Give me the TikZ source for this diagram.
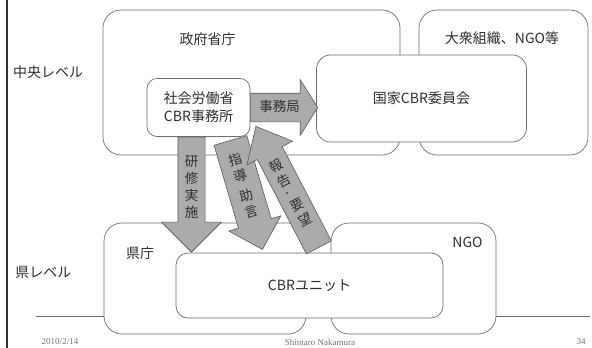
\documentclass[tikz,border=0pt]{standalone}
\usepackage{fontspec}
\usepackage{graphicx}
\setmainfont{Liberation Serif}
\newfontfamily\jp{Noto Sans CJK JP}
\usetikzlibrary{shapes.arrows,positioning}

\definecolor{linegray}{HTML}{6E6E6E}
\definecolor{textgray}{HTML}{2E2E2E}
\definecolor{arrowfill}{HTML}{ABABAB}

% one upright character of a column of vertical text
\newcommand{\tate}[1]{\rotatebox{90}{\raisebox{0pt}[12.5pt][4.5pt]{#1}}}

\tikzset{
	box/.style={draw=linegray, line width=0.7pt, fill=white, rounded corners=#1},
	box/.default=18pt,
	lbl/.style={text=textgray, font=\jp\fontsize{14}{18}\selectfont},
	bigarrow/.style={single arrow, draw=black!65, fill=arrowfill, line width=0.6pt,
		text=textgray, font=\jp\fontsize{13.5}{16}\selectfont, inner xsep=1pt},
	foot/.style={text=black!55, font=\fontsize{9}{10}\selectfont}
}

\begin{document}
\begin{tikzpicture}[x=1pt, y=-1pt]
	\useasboundingbox (0,0) rectangle (592,348);
	
	% slide frame
	\draw[black!80, line width=2pt] (7,0) -- (7,348);
	\draw[linegray, line width=0.8pt] (36,316) -- (590,316);
	
	% central level
	\node[box, minimum width=297pt, minimum height=145pt] (seifu) at (251.5,82.5) {};
	\node[box, minimum width=169pt, minimum height=145pt] (taishu) at (503.5,82.5) {};
	\node[box=14pt, lbl, minimum width=210pt, minimum height=87pt] (kokka) at (421.5,98.5) {国家CBR委員会};
	\node[box=10pt, lbl, align=center, minimum width=103pt, minimum height=58pt] (shakai) at (198.5,107.5) {社会労働省\\CBR事務所};
	
	\node[lbl] (seifu-t) at (207.5,39) {政府省庁};
	\node[lbl] (taishu-t) at (502,38) {大衆組織、NGO等};
	\node[lbl] (chuo) at (48,72) {中央レベル};
	
	% prefecture level
	\node[box, minimum width=202pt, minimum height=111pt] (kencho) at (205,278.5) {};
	\node[box, minimum width=165pt, minimum height=111pt] (ngo) at (413.5,278.5) {};
	\node[box=12pt, lbl, minimum width=267pt, minimum height=65pt] (unit) at (309.5,285.5) {CBRユニット};
	
	\node[lbl] (kencho-t) at (140,253) {県庁};
	\node[lbl] (ngo-t) at (467.5,242) {NGO};
	\node[lbl] (ken) at (43.5,272) {県レベル};
	
	% arrows
	\node[bigarrow, minimum height=67pt, inner ysep=7pt, text height=10.5pt, text depth=3.5pt,
		single arrow head extend=13.5pt, single arrow tip angle=116, anchor=tail]
		(jimu) at (shakai.east) {事務局};
	\node[bigarrow, rotate=-90, minimum height=115pt, inner ysep=6.5pt,
		single arrow head extend=16.5pt, anchor=tail]
		(kenshu) at ([xshift=-7pt]shakai.south) {\tate{研}\tate{修}\tate{実}\tate{施}};
	\node[bigarrow, rotate=-73.6, minimum height=113.6pt, inner ysep=10pt,
		single arrow head extend=10pt, anchor=tail]
		(shido) at ([xshift=-20pt,yshift=-3.3pt]shakai.south east) {\tate{指}\tate{導}\hspace{4pt}\tate{助}\tate{言}};
	\node[bigarrow, rotate=-62.5, shape border rotate=180, minimum height=136.4pt, inner ysep=7pt,
		single arrow head extend=11.6pt, single arrow tip angle=81, anchor=tail]
		(hokoku) at ([xshift=9.5pt,yshift=5pt]unit.north) {\tate{報}\tate{告}\hspace{2pt}\rotatebox{90}{·}\hspace{2pt}\tate{要}\tate{望}};
	
	% footer
	\node[foot] (date) at (60,342) {2010/2/14};
	\node[foot] (author) at (320,342) {Shintaro Nakamura};
	\node[foot] (page) at (581,342) {34};
\end{tikzpicture}
\end{document}
